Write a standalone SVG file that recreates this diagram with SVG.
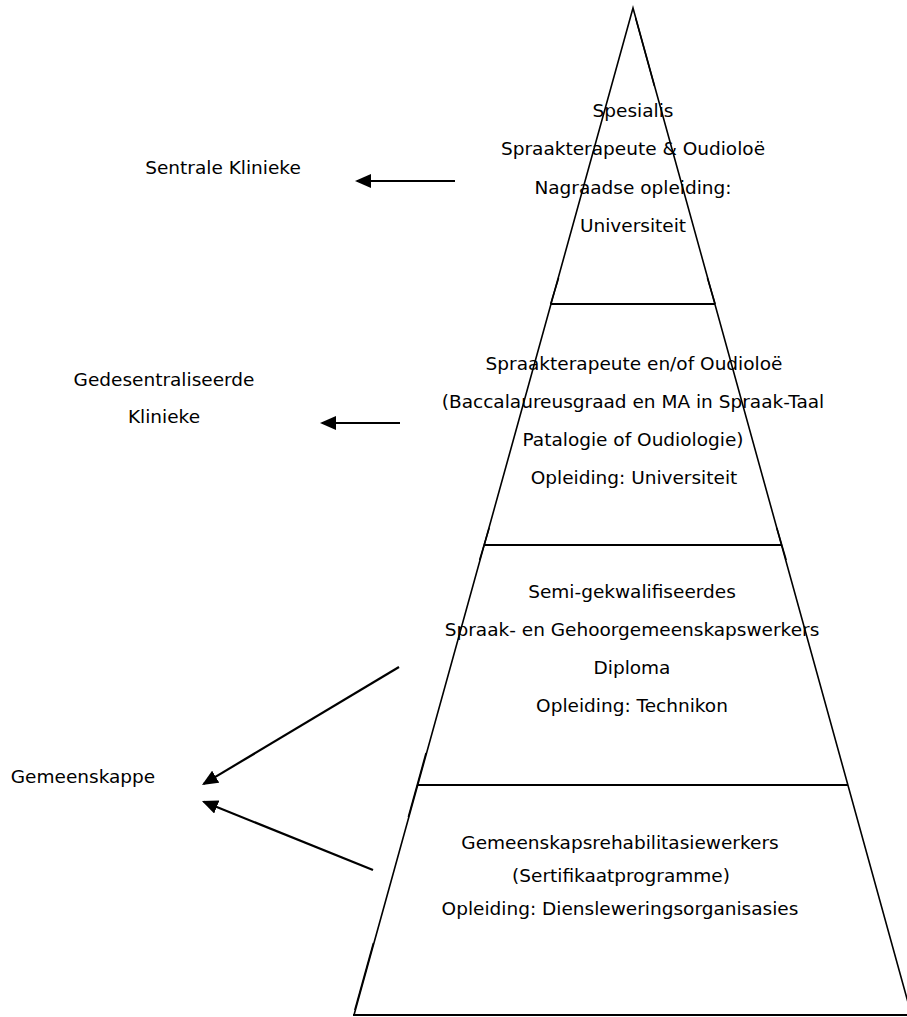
<svg xmlns="http://www.w3.org/2000/svg" width="907" height="1017" viewBox="0 0 907 1017">
  <style>
    text { font-family: "DejaVu Sans", "Liberation Sans", sans-serif; font-size: 18.5px; fill: #000; }
    .c { text-anchor: middle; }
    .edge { fill: none; stroke: #000; stroke-width: 1.6; }
    .dup { fill: none; stroke: #000; stroke-width: 1.5; }
    .band { stroke: #000; stroke-width: 2.2; }
    .arrow { stroke: #000; stroke-width: 2.2; fill: none; marker-end: url(#head); }
  </style>
  <defs>
    <marker id="head" viewBox="0 0 16 14" refX="14" refY="7" markerWidth="16" markerHeight="14" markerUnits="userSpaceOnUse" orient="auto">
      <path d="M0,0 L16,7 L0,14 z" fill="#000"/>
    </marker>
  </defs>
  <rect width="907" height="1017" fill="#fff"/>

  <g id="pyramid">
    <path class="edge" d="M354,1015 L633,8 L911.5,1015"/>
    <line class="band" x1="353" y1="1015" x2="907" y2="1015"/>
    <line class="band" x1="551" y1="304" x2="715" y2="304"/>
    <line class="band" x1="485" y1="545" x2="782" y2="545"/>
    <line class="band" x1="418" y1="785" x2="848" y2="785"/>
    <line class="dup" x1="635.6" y1="18" x2="654.4" y2="86"/>
    <line class="dup" x1="558.6" y1="278" x2="550.6" y2="304"/>
    <line class="dup" x1="707.4" y1="278" x2="715.2" y2="304"/>
    <line class="dup" x1="489.2" y1="528" x2="479.6" y2="560"/>
    <line class="dup" x1="776.8" y1="528" x2="786.2" y2="560"/>
    <line class="dup" x1="426" y1="753" x2="408.3" y2="817"/>
    <line class="dup" x1="373.4" y1="943" x2="354.8" y2="1010"/>
  </g>

  <g id="tier-spesialis">
    <text class="c" x="633" y="116.5">Spesialis</text>
    <text class="c" x="633" y="155">Spraakterapeute &amp; Oudioloë</text>
    <text class="c" x="633" y="193.5">Nagraadse opleiding:</text>
    <text class="c" x="633" y="232">Universiteit</text>
  </g>

  <g id="tier-spraakterapeute">
    <text class="c" x="634" y="369.5">Spraakterapeute en/of Oudioloë</text>
    <text class="c" x="633" y="407.5">(Baccalaureusgraad en MA in Spraak-Taal</text>
    <text class="c" x="633" y="445.5">Patalogie of Oudiologie)</text>
    <text class="c" x="634" y="483.5">Opleiding: Universiteit</text>
  </g>

  <g id="tier-semi">
    <text class="c" x="632" y="597.5">Semi-gekwalifiseerdes</text>
    <text class="c" x="632" y="635.5">Spraak- en Gehoorgemeenskapswerkers</text>
    <text class="c" x="632" y="673.5">Diploma</text>
    <text class="c" x="632" y="711.5">Opleiding: Technikon</text>
  </g>

  <g id="tier-gemeenskap">
    <text class="c" x="620" y="848.5">Gemeenskapsrehabilitasiewerkers</text>
    <text class="c" x="621" y="881.5">(Sertifikaatprogramme)</text>
    <text class="c" x="620" y="914.5">Opleiding: Diensleweringsorganisasies</text>
  </g>

  <g id="label-sentrale">
    <text class="c" x="223" y="173.5">Sentrale Klinieke</text>
  </g>
  <g id="label-gedesentraliseerde">
    <text class="c" x="164" y="386">Gedesentraliseerde</text>
    <text class="c" x="164" y="423">Klinieke</text>
  </g>
  <g id="label-gemeenskappe">
    <text class="c" x="83" y="782.5">Gemeenskappe</text>
  </g>

  <g id="connectors">
    <line class="arrow" x1="455" y1="181" x2="357" y2="181"/>
    <line class="arrow" x1="400" y1="423" x2="322" y2="423"/>
    <line class="arrow" x1="399" y1="667" x2="203.7" y2="783.9"/>
    <line class="arrow" x1="373" y1="870" x2="203.8" y2="801.8"/>
  </g>
</svg>
